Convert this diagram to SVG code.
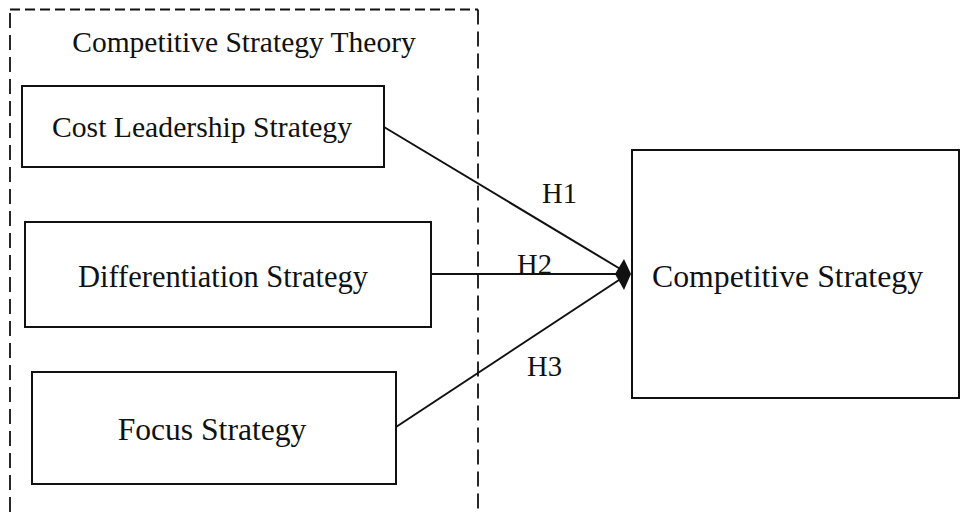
<svg xmlns="http://www.w3.org/2000/svg" width="960" height="519" viewBox="0 0 960 519">
<defs>
<style>
text{font-family:"Liberation Serif","Times New Roman",serif;fill:#111;}
.box{fill:#fff;stroke:#111;stroke-width:2;}
.conn{stroke:#111;stroke-width:2;fill:none;}
.dash{stroke:#111;stroke-width:1.8;fill:none;}
</style>
</defs>
<rect width="960" height="519" fill="#fff"/>
<g id="theory">
<path class="dash" d="M10,512 V9.5" stroke-dasharray="15,7"/>
<path class="dash" d="M10,9.5 H478" stroke-dasharray="10,5"/>
<path class="dash" d="M478,9.5 V512" stroke-dasharray="15,7"/>
<text x="244" y="52" font-size="29.5" text-anchor="middle">Competitive Strategy Theory</text>
</g>
<g id="cost">
<rect class="box" x="22" y="86" width="362" height="81"/>
<text x="202" y="137" font-size="29.7" text-anchor="middle">Cost Leadership Strategy</text>
</g>
<g id="diff">
<rect class="box" x="25" y="222" width="406" height="105"/>
<text x="223" y="287" font-size="30.5" text-anchor="middle">Differentiation Strategy</text>
</g>
<g id="focus">
<rect class="box" x="32" y="372" width="364" height="112"/>
<text x="212" y="440" font-size="31.6" text-anchor="middle">Focus Strategy</text>
</g>
<g id="competitive">
<rect class="box" x="632" y="150" width="327" height="248"/>
<text x="652" y="287" font-size="31.8">Competitive Strategy</text>
</g>
<g id="connectors">
<line class="conn" x1="384" y1="127" x2="622" y2="270"/>
<line class="conn" x1="431" y1="274" x2="622" y2="274"/>
<line class="conn" x1="396" y1="427" x2="622" y2="278"/>
<polygon points="615,274 624,259 631,274 624,290" fill="#111"/>
<text x="542" y="203" font-size="28.6">H1</text>
<text x="517" y="274" font-size="28.6">H2</text>
<text x="527" y="376" font-size="28.6">H3</text>
</g>
</svg>
